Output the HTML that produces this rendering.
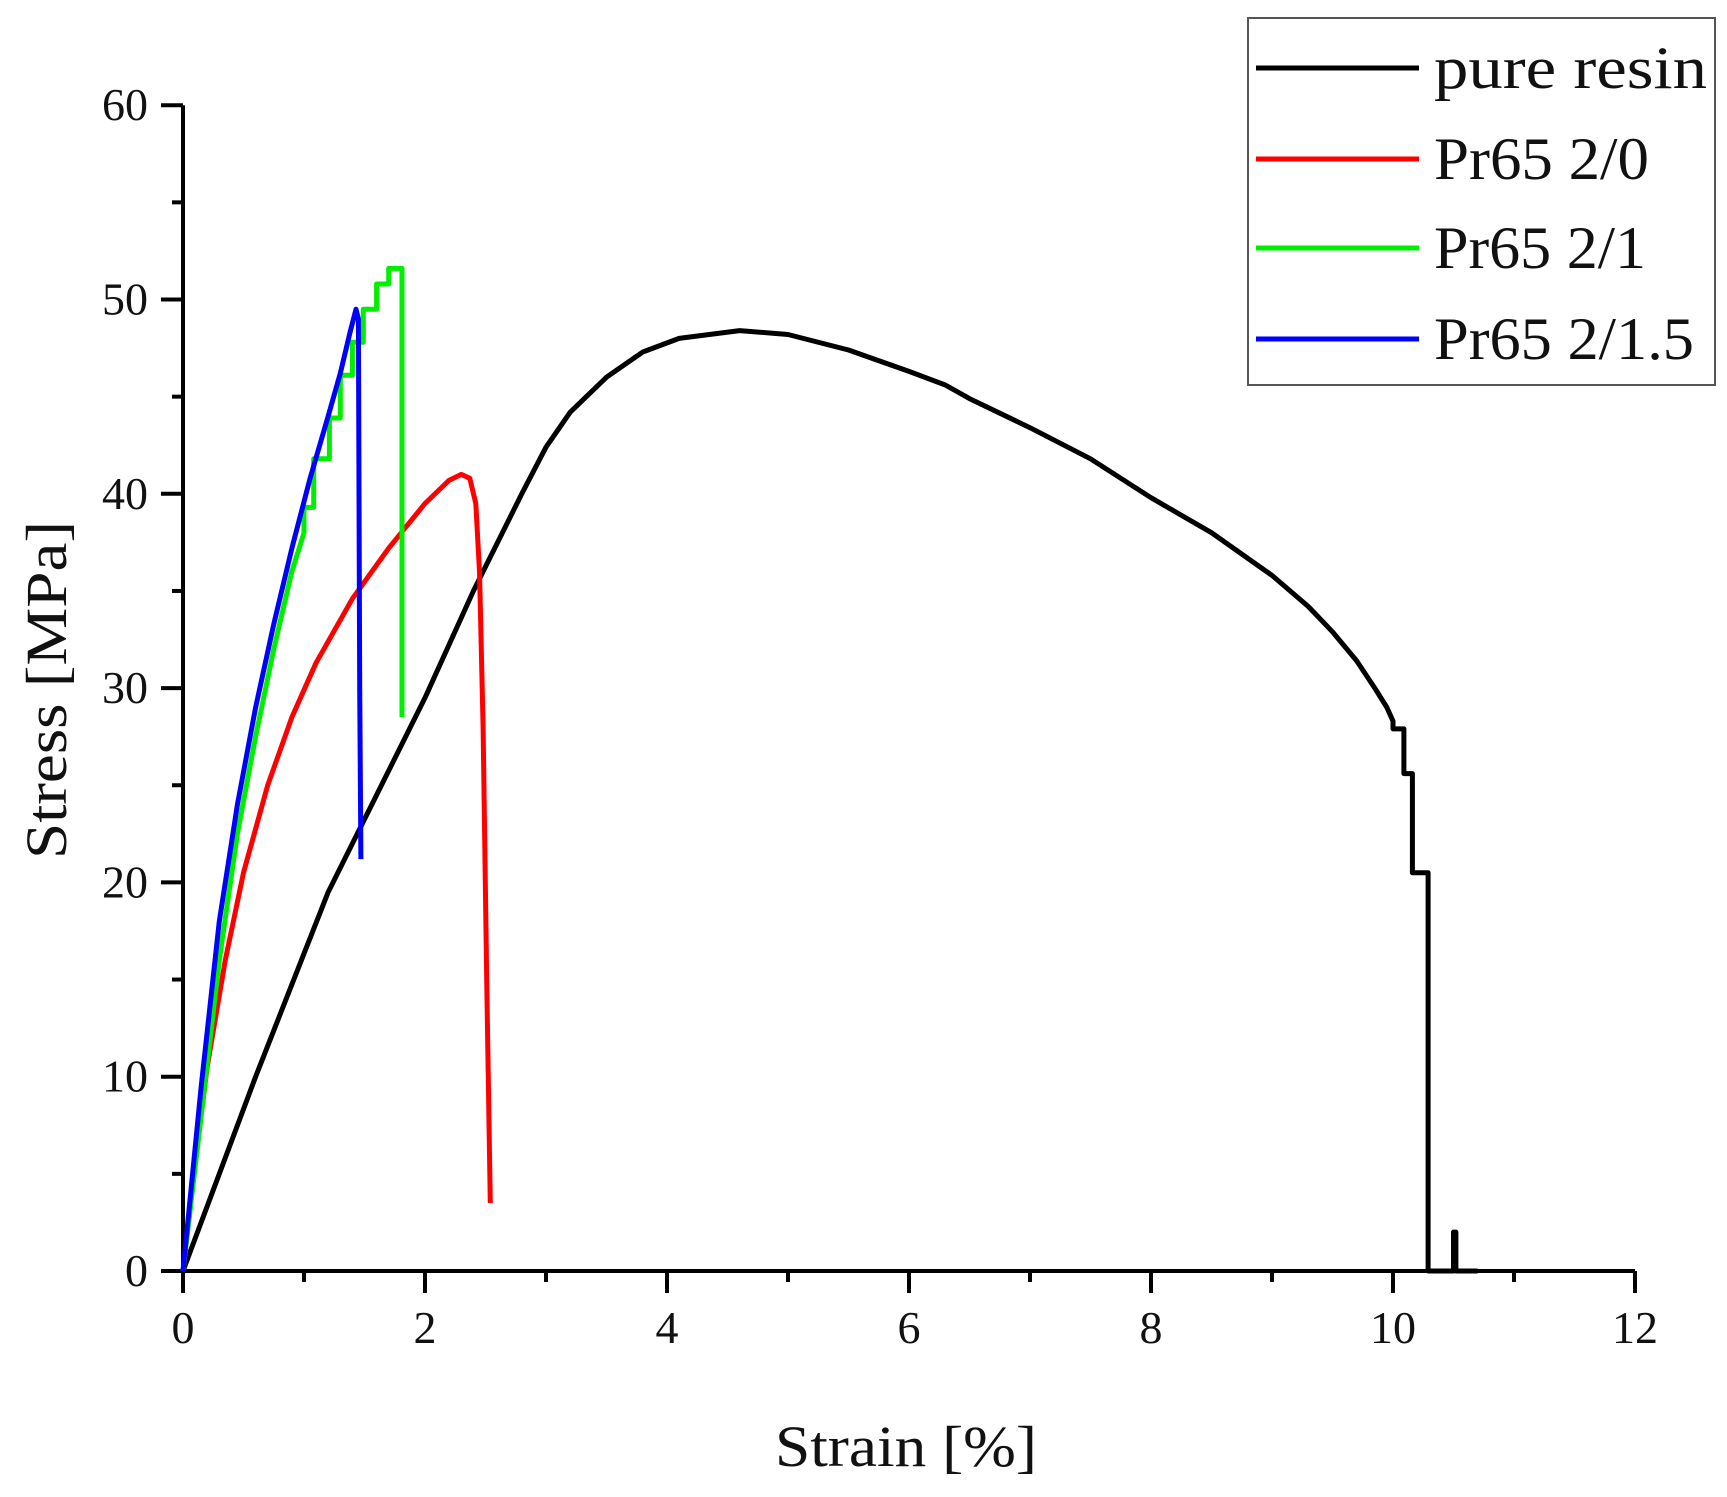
<!DOCTYPE html>
<html><head><meta charset="utf-8"><style>
html,body{margin:0;padding:0;background:#fff;}
svg{display:block;}
text{font-family:"Liberation Serif",serif;fill:#111;}
</style></head><body>
<svg id="chart" width="1727" height="1497" viewBox="0 0 1727 1497" xmlns="http://www.w3.org/2000/svg">
<g id="axes"></g>
<g id="series"></g>
<g id="legend"></g>
<text x="906" y="1466" font-size="58" text-anchor="middle" textLength="262" lengthAdjust="spacingAndGlyphs">Strain [%]</text>
<text x="0" y="0" font-size="58" text-anchor="middle" transform="translate(66,690) rotate(-90)" textLength="338" lengthAdjust="spacingAndGlyphs">Stress [MPa]</text>
</svg>
<script>
const xTicks = [0, 2, 4, 6, 8, 10, 12];
const yTicks = [0, 10, 20, 30, 40, 50, 60];
const seriesNames = ["pure resin", "Pr65 2/0", "Pr65 2/1", "Pr65 2/1.5"];
const seriesColors = ["#000000", "#ff0000", "#00ee00", "#0000ff"];
const pureResinX = [0,0.6,1.2,1.6,2.0,2.4,2.8,3.0,3.2,3.5,3.8,4.1,4.6,5.0,5.5,6.0,6.3,6.5,7.0,7.5,8.0,8.5,9.0,9.3,9.5,9.7,9.85,9.95,10.0,10.0,10.09,10.09,10.16,10.16,10.29,10.29,10.5,10.5,10.52,10.52,10.7];
const pureResinY = [0,10,19.5,24.5,29.5,35,40,42.4,44.2,46,47.3,48,48.4,48.2,47.4,46.3,45.6,44.9,43.4,41.8,39.8,38,35.8,34.2,32.9,31.4,30,29,28.3,27.9,27.9,25.6,25.6,20.5,20.5,0,0,2,2,0,0];
const pr20X = [0,0.1,0.2,0.35,0.5,0.7,0.9,1.1,1.4,1.7,2.0,2.2,2.3,2.37,2.42,2.45,2.48,2.51,2.54];
const pr20Y = [0,5.5,10.5,16,20.5,25,28.5,31.3,34.6,37.2,39.5,40.7,41,40.8,39.5,36,28,15,3.5];
const pr21X = [0,0.15,0.3,0.45,0.6,0.75,0.9,1.0,1.0,1.08,1.08,1.21,1.21,1.30,1.30,1.40,1.40,1.49,1.49,1.60,1.60,1.70,1.70,1.81,1.81];
const pr21Y = [0,8,16,22.5,27.5,32,36,38,39.3,39.3,41.8,41.8,43.9,43.9,46.1,46.1,47.8,47.8,49.5,49.5,50.8,50.8,51.6,51.6,28.5];
const pr215X = [0,0.15,0.3,0.45,0.6,0.75,0.9,1.05,1.2,1.3,1.38,1.43,1.45,1.46,1.47];
const pr215Y = [0,9.5,18,24,29,33.3,37.2,40.8,44,46.2,48.3,49.5,49,30,21.2];

const X0 = 183, XPU = 121, Y0 = 1271, YPU = 19.43;
function sx(v){ return X0 + v * XPU; }
function sy(v){ return Y0 - v * YPU; }
const NS = "http://www.w3.org/2000/svg";
function mk(tag, attrs, parent){
  const e = document.createElementNS(NS, tag);
  for (const k in attrs) e.setAttribute(k, attrs[k]);
  parent.appendChild(e);
  return e;
}
const axes = document.getElementById('axes');
const xAxis = mk('line', {x1: sx(0), y1: sy(0), x2: sx(12), y2: sy(0), stroke: '#000', 'stroke-width': 4}, axes);


const yAxis = mk('line', {x1: sx(0), y1: sy(0) + 2, x2: sx(0), y2: sy(60), stroke: '#000', 'stroke-width': 4}, axes);


for (let v = 0; v <= 12; v++) {
  const major = v % 2 === 0;
  const t = mk('line', {x1: sx(v), y1: sy(0), x2: sx(v), y2: sy(0) + (major ? 22 : 11), stroke: '#000', 'stroke-width': 4}, axes);
  
  
}
xTicks.forEach(v => {
  const t = mk('text', {x: sx(v), y: sy(0) + 72, 'font-size': 46, 'text-anchor': 'middle'}, axes);
  t.textContent = v;
  
  
});
for (let v = 0; v <= 60; v += 5) {
  const major = v % 10 === 0;
  const t = mk('line', {x1: sx(0), y1: sy(v), x2: sx(0) - (major ? 22 : 11), y2: sy(v), stroke: '#000', 'stroke-width': 4}, axes);
  
  
}
yTicks.forEach(v => {
  const t = mk('text', {x: sx(0) - 35, y: sy(v) + 15, 'font-size': 46, 'text-anchor': 'end'}, axes);
  t.textContent = v;
  
  
});
const seriesG = document.getElementById('series');
const seriesData = [[pureResinX, pureResinY], [pr20X, pr20Y], [pr21X, pr21Y], [pr215X, pr215Y]];
const seriesKeys = ["pure-resin-line", "pr65-2-0-line", "pr65-2-1-line", "pr65-2-1-5-line"];
seriesData.forEach((d, i) => {
  const pts = d[0].map((x, j) => sx(x).toFixed(1) + ',' + sy(d[1][j]).toFixed(1)).join(' ');
  const p = mk('polyline', {points: pts, fill: 'none', stroke: seriesColors[i], 'stroke-width': 5, 'stroke-linejoin': 'round'}, seriesG);
  
  
});
const legend = document.getElementById('legend');
const box = mk('rect', {x: 1248, y: 18, width: 467, height: 367, fill: '#fff', stroke: '#555', 'stroke-width': 2}, legend);


const legendY = [68, 159, 248, 339];
const legendW = [273, 215, 212, 260];
seriesNames.forEach((n, i) => {
  const l = mk('line', {x1: 1256, y1: legendY[i], x2: 1419, y2: legendY[i], stroke: seriesColors[i], 'stroke-width': 5}, legend);
  
  
  const t = mk('text', {x: 1434, y: legendY[i] + 20, 'font-size': 60, textLength: legendW[i], lengthAdjust: 'spacingAndGlyphs'}, legend);
  t.textContent = n;
  
  
});
</script>
</body></html>
